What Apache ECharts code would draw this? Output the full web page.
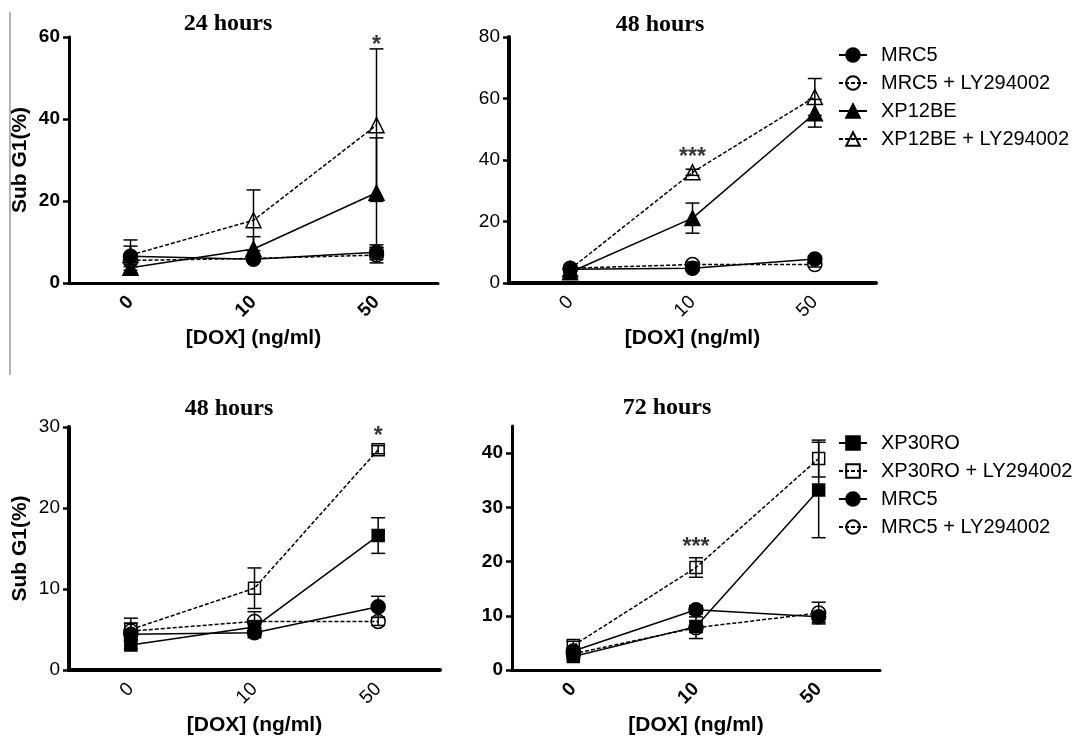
<!DOCTYPE html>
<html><head><meta charset="utf-8">
<script src="https://cdn.jsdelivr.net/npm/echarts@6/dist/echarts.min.js"></script>
<style>html,body{margin:0;padding:0;background:#fff}#c{width:1077px;height:737px}</style>
</head><body><div id="c"></div>
<script>
// ---------- data ----------
const doseCats = ['0', '10', '50'];
const panelTitles = ['24 hours', '48 hours', '48 hours', '72 hours'];
const xAxisName = '[DOX] (ng/ml)';
const yAxisName = 'Sub G1(%)';

// y axis ranges / ticks
const yMax = [60, 80, 30, 45];
const yInterval = [20, 20, 10, 10];
const yTicksP4 = [0, 10, 20, 30, 40];

// Panel 1 : 24 hours
const p1Names = ['MRC5', 'MRC5 + LY294002', 'XP12BE', 'XP12BE + LY294002'];
const p1_MRC5 = [6.5, 5.8, 7.5];
const p1_MRC5_sd = [2.5, 0.5, 1.8];
const p1_MRC5LY = [5.5, 6.0, 6.8];
const p1_MRC5LY_sd = [1.0, 0.5, 1.9];
const p1_XP12BE = [3.7, 8.3, 22.0];
const p1_XP12BE_sd = [1.2, 3.0, 13.4];
const p1_XP12BELY = [6.8, 15.3, 38.5];
const p1_XP12BELY_sd = [3.7, 7.4, 18.6];

// Panel 2 : 48 hours (top)
const p2_MRC5 = [4.5, 4.8, 7.8];
const p2_MRC5_sd = [0.8, 0.8, 1.0];
const p2_MRC5LY = [4.8, 6.0, 6.0];
const p2_MRC5LY_sd = [0.8, 0.8, 0.8];
const p2_XP12BE = [3.5, 21.1, 55.2];
const p2_XP12BE_sd = [0.8, 4.9, 4.5];
const p2_XP12BELY = [4.5, 36.0, 60.5];
const p2_XP12BELY_sd = [0.8, 1.0, 6.0];

// Panel 3 : 48 hours (bottom)
const p3Names = ['XP30RO', 'XP30RO + LY294002', 'MRC5', 'MRC5 + LY294002'];
const p3_XP30RO = [3.1, 5.3, 16.6];
const p3_XP30RO_sd = [0.5, 0.8, 2.2];
const p3_XP30ROLY = [5.0, 10.1, 27.2];
const p3_XP30ROLY_sd = [1.4, 2.5, 0.5];
const p3_MRC5 = [4.4, 4.6, 7.8];
const p3_MRC5_sd = [0.6, 0.6, 1.3];
const p3_MRC5LY = [4.8, 6.0, 6.0];
const p3_MRC5LY_sd = [1.0, 1.2, 0.5];

// Panel 4 : 72 hours
const p4_XP30RO = [2.5, 8.0, 33.2];
const p4_XP30RO_sd = [0.5, 1.0, 8.8];
const p4_XP30ROLY = [4.5, 18.9, 39.0];
const p4_XP30ROLY_sd = [0.8, 1.8, 3.4];
const p4_MRC5 = [3.5, 11.1, 9.8];
const p4_MRC5_sd = [0.6, 0.8, 1.0];
const p4_MRC5LY = [3.0, 7.8, 10.5];
const p4_MRC5LY_sd = [0.6, 2.0, 2.0];

// significance marks
const sigCats = ['50', '10', '50', '10'];
const sigY = [58.0, 40.6, 28.8, 22.5];
const sigText = ['*', '***', '*', '***'];

// ---------- styling ----------
const SANS = "'Liberation Sans', Arial, sans-serif";
const SERIF = "'Liberation Serif', 'Times New Roman', serif";
const styleOf = {
  'MRC5': { symbol: 'circle', size: 14, fill: '#000', dashed: false },
  'MRC5 + LY294002': { symbol: 'circle', size: 14, fill: 'rgba(255,255,255,0)', dashed: true },
  'XP12BE': { symbol: 'triangle', size: 15, fill: '#000', dashed: false },
  'XP12BE + LY294002': { symbol: 'triangle', size: 15, fill: 'rgba(255,255,255,0)', dashed: true },
  'XP30RO': { symbol: 'rect', size: 12, fill: '#000', dashed: false },
  'XP30RO + LY294002': { symbol: 'rect', size: 12, fill: 'rgba(255,255,255,0)', dashed: true }
};

const grids = [
  { left: 69, top: 37, width: 369, height: 246 },
  { left: 509, top: 37, width: 367, height: 246 },
  { left: 69, top: 427, width: 371, height: 245 },
  { left: 512, top: 426, width: 368, height: 244 }
];
const axisW = [3, 4, 4, 3];
const boldTicks = [true, false, false, true];

function lineSeries(name, values, g) {
  const s = styleOf[name];
  return {
    type: 'line', name: name, xAxisIndex: g, yAxisIndex: g, data: values,
    symbol: s.symbol, symbolSize: s.size, showSymbol: true, silent: true,
    itemStyle: { color: s.fill, borderColor: '#000', borderWidth: 1.5 },
    lineStyle: { color: '#000', width: 1.5, type: s.dashed ? [4, 2] : 'solid' },
    z: 3, animation: false
  };
}
function errSeries(pairs, g) {
  const data = [];
  pairs.forEach(function (p) {
    p[0].forEach(function (v, i) { data.push([i, v - p[1][i], v + p[1][i]]); });
  });
  return {
    type: 'custom', xAxisIndex: g, yAxisIndex: g, data: data, silent: true, z: 1,
    animation: false, encode: { x: 0, y: [1, 2] },
    renderItem: function (params, api) {
      const x = api.value(0);
      const lo = api.coord([x, api.value(1)]);
      const hi = api.coord([x, api.value(2)]);
      const w = 7;
      const st = { stroke: '#000', lineWidth: 1.5 };
      return {
        type: 'group', children: [
          { type: 'line', shape: { x1: lo[0], y1: lo[1], x2: hi[0], y2: hi[1] }, style: st },
          { type: 'line', shape: { x1: hi[0] - w, y1: hi[1], x2: hi[0] + w, y2: hi[1] }, style: st },
          { type: 'line', shape: { x1: lo[0] - w, y1: lo[1], x2: lo[0] + w, y2: lo[1] }, style: st }
        ]
      };
    }
  };
}
function sigSeries(g) {
  return {
    type: 'scatter', xAxisIndex: g, yAxisIndex: g, silent: true, z: 5,
    data: [[sigCats[g], sigY[g]]], symbolSize: 1,
    itemStyle: { color: 'rgba(0,0,0,0)' },
    label: { show: true, position: 'inside', formatter: sigText[g],
      fontSize: 23, fontWeight: 'bold', fontFamily: SANS, color: '#000' },
    animation: false
  };
}

const xAxes = [], yAxes = [];
for (let g = 0; g < 4; g++) {
  xAxes.push({
    type: 'category', gridIndex: g, data: doseCats,
    name: xAxisName, nameLocation: 'middle', nameGap: 45,
    nameTextStyle: { fontSize: 21, fontWeight: 'bold', fontFamily: SANS, color: '#000' },
    axisLine: { lineStyle: { color: '#000', width: axisW[g] } },
    axisTick: { alignWithLabel: true, length: 6, lineStyle: { color: '#000', width: 2.5 } },
    axisLabel: { rotate: 45, margin: 16, fontSize: 19, fontFamily: SANS, color: '#000',
      fontWeight: boldTicks[g] ? 'bold' : 'normal' },
    splitLine: { show: false }
  });
  const y = {
    type: 'value', gridIndex: g, min: 0, max: yMax[g], interval: yInterval[g],
    axisLine: { show: true, lineStyle: { color: '#000', width: axisW[g] } },
    axisTick: { show: true, length: 6, lineStyle: { color: '#000', width: 2.5 } },
    axisLabel: { margin: 9, fontSize: 19, fontFamily: SANS, color: '#000',
      fontWeight: boldTicks[g] ? 'bold' : 'normal' },
    splitLine: { show: false }
  };
  if (g === 0 || g === 2) {
    y.name = yAxisName; y.nameLocation = 'middle'; y.nameGap = 38;
    y.nameTextStyle = { fontSize: 21, fontWeight: 'bold', fontFamily: SANS, color: '#000' };
  }
  if (g === 3) {
    y.axisLabel.customValues = yTicksP4;
    y.axisTick.customValues = yTicksP4;
  }
  yAxes.push(y);
}

const titleCenters = [[228, 12], [660, 13], [229, 397], [667, 396]];
const titles = panelTitles.map(function (t, i) {
  return { text: t, left: titleCenters[i][0], top: titleCenters[i][1], textAlign: 'center', padding: 0,
    textStyle: { fontFamily: SERIF, fontWeight: 'bold', fontSize: 24, color: '#000' } };
});

const series = [
  errSeries([[p1_MRC5, p1_MRC5_sd], [p1_MRC5LY, p1_MRC5LY_sd], [p1_XP12BE, p1_XP12BE_sd], [p1_XP12BELY, p1_XP12BELY_sd]], 0),
  lineSeries('MRC5', p1_MRC5, 0),
  lineSeries('MRC5 + LY294002', p1_MRC5LY, 0),
  lineSeries('XP12BE', p1_XP12BE, 0),
  lineSeries('XP12BE + LY294002', p1_XP12BELY, 0),
  sigSeries(0),

  errSeries([[p2_MRC5, p2_MRC5_sd], [p2_MRC5LY, p2_MRC5LY_sd], [p2_XP12BE, p2_XP12BE_sd], [p2_XP12BELY, p2_XP12BELY_sd]], 1),
  lineSeries('MRC5', p2_MRC5, 1),
  lineSeries('MRC5 + LY294002', p2_MRC5LY, 1),
  lineSeries('XP12BE', p2_XP12BE, 1),
  lineSeries('XP12BE + LY294002', p2_XP12BELY, 1),
  sigSeries(1),

  errSeries([[p3_XP30RO, p3_XP30RO_sd], [p3_XP30ROLY, p3_XP30ROLY_sd], [p3_MRC5, p3_MRC5_sd], [p3_MRC5LY, p3_MRC5LY_sd]], 2),
  lineSeries('XP30RO', p3_XP30RO, 2),
  lineSeries('XP30RO + LY294002', p3_XP30ROLY, 2),
  lineSeries('MRC5', p3_MRC5, 2),
  lineSeries('MRC5 + LY294002', p3_MRC5LY, 2),
  sigSeries(2),

  errSeries([[p4_XP30RO, p4_XP30RO_sd], [p4_XP30ROLY, p4_XP30ROLY_sd], [p4_MRC5, p4_MRC5_sd], [p4_MRC5LY, p4_MRC5LY_sd]], 3),
  lineSeries('XP30RO', p4_XP30RO, 3),
  lineSeries('XP30RO + LY294002', p4_XP30ROLY, 3),
  lineSeries('MRC5', p4_MRC5, 3),
  lineSeries('MRC5 + LY294002', p4_MRC5LY, 3),
  sigSeries(3)
];

function legendAt(names, top) {
  return {
    data: names, orient: 'vertical', left: 838, top: top, padding: 0,
    itemWidth: 28, itemHeight: 17, itemGap: 8, selectedMode: false,
    textStyle: { fontSize: 20, fontFamily: SANS, color: '#000', padding: [0, 0, 0, 9] }
  };
}

const chart = echarts.init(document.getElementById('c'));
chart.setOption({
  backgroundColor: '#fff',
  animation: false,
  title: titles,
  grid: grids,
  xAxis: xAxes,
  yAxis: yAxes,
  legend: [legendAt(p1Names, 45), legendAt(p3Names, 433)],
  graphic: [{ type: 'line', shape: { x1: 10, y1: 12, x2: 10, y2: 375 }, style: { stroke: '#999', lineWidth: 1.5 }, silent: true }],
  series: series
});
</script></body></html>
